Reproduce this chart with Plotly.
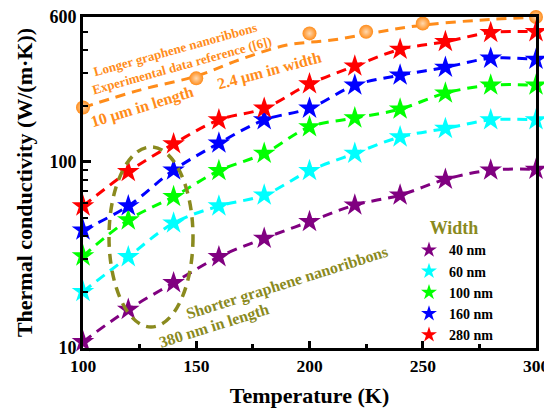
import plotly.graph_objects as go

# ---------------- data ----------------
temperature = [100, 120, 140, 160, 180, 200, 220, 240, 260, 280, 300]
k_40nm  = [10.8, 16.1, 22.4, 30.9, 38.8, 47.7, 58.6, 66.3, 80.5, 90.3, 91.0]
k_60nm  = [20.1, 30.9, 46.9, 57.9, 66.3, 89.6, 111, 136, 151, 168, 168]
k_100nm = [31.2, 48.7, 65.0, 89.6, 111, 154, 172, 192, 234, 258, 258]
k_160nm = [43.0, 58.0, 90.3, 126, 168, 194, 258, 292, 322, 360, 355]
k_280nm = [57.9, 88.5, 125, 168, 194, 262, 327, 402, 442, 495, 500]

exp_T = [100, 150, 200, 225, 250, 300]
exp_k = [196, 281, 490, 500, 554, 600]
exp_fit_T = [100, 125, 150, 170, 190, 210, 230, 250, 275, 300]
exp_fit_k = [196, 243, 289, 357, 424, 451, 498, 543, 577, 600]

widths = ["40 nm", "60 nm", "100 nm", "160 nm", "280 nm"]
series = [k_40nm, k_60nm, k_100nm, k_160nm, k_280nm]
colors = ["#800080", "#00FFFF", "#00FF00", "#0000FF", "#FF0000"]

x_ticks = [100, 150, 200, 250, 300]
y_ticks = [10, 100, 600]
y_minor = [20, 30, 40, 50, 60, 70, 80, 90, 200, 300, 400, 500]

ORANGE = "#FF8C1A"
OLIVE = "#8A8A1E"
FONT = "Liberation Serif"

fig = go.Figure()

# experimental (orange)
fig.add_trace(go.Scatter(x=exp_fit_T, y=exp_fit_k, mode="lines",
                         line=dict(color=ORANGE, width=3, dash="10px,7px", shape="spline"),
                         showlegend=False, hoverinfo="skip"))
fig.add_trace(go.Scatter(x=exp_T, y=exp_k, mode="markers",
                         marker=dict(symbol="circle", size=14, color=ORANGE,
                                     gradient=dict(type="radial", color="#FFD9B0"),
                                     line=dict(width=0)),
                         showlegend=False, cliponaxis=False))

# simulated series
for name, vals, c in zip(widths, series, colors):
    fig.add_trace(go.Scatter(x=temperature, y=vals, mode="lines",
                             line=dict(color=c, width=3, dash="10px,7px", shape="spline"),
                             showlegend=False, hoverinfo="skip"))
for name, vals, c in zip(widths, series, colors):
    fig.add_trace(go.Scatter(x=temperature, y=vals, mode="markers", name=name,
                             marker=dict(symbol="star", size=17, color=c, line=dict(width=0)),
                             cliponaxis=False))

# page body has an 8px margin: figure is offset by (8, 8) in the window
OFF = 8
AX_L, AX_R, AX_T, AX_B = 83, 536, 17, 348   # plot area in window pixels
W, H = 552 - OFF, 412 - OFF
L = AX_L - OFF
T = AX_T - OFF
R = W - (AX_R - OFF)
B = H - (AX_B - OFF)
pw, ph = AX_R - AX_L, AX_B - AX_T


def px(xp):
    return (xp - AX_L) / pw


def py(yp):
    return (AX_B - yp) / ph


fig.update_layout(
    width=W, height=H,
    margin=dict(l=L, r=R, t=T, b=B, autoexpand=False),
    paper_bgcolor="white", plot_bgcolor="white",
    font=dict(family=FONT, color="black"),
    showlegend=True,
    legend=dict(
        x=px(409), y=py(211), xanchor="left", yanchor="top",
        bgcolor="rgba(0,0,0,0)",
        font=dict(family=FONT, size=14, color="black", weight="bold"),
        title=dict(text="Width", side="top center",
                   font=dict(family=FONT, size=18, color=OLIVE, weight="bold")),
        tracegroupgap=0, itemsizing="constant",
    ),
    xaxis=dict(
        range=[100, 300], tickmode="array", tickvals=x_ticks, automargin=False,
        ticklabeloverflow="allow",
        showline=True, linecolor="black", linewidth=3, mirror=True,
        ticks="inside", ticklen=7, tickwidth=3, tickcolor="black",
        minor=dict(ticks="inside", ticklen=4, tickwidth=3, dtick=25, tickcolor="black"),
        showgrid=False, zeroline=False,
        tickfont=dict(family=FONT, size=17.5, color="black", weight="bold"),
        title=dict(text="Temperature (K)", standoff=13,
                   font=dict(family=FONT, size=22, color="black", weight="bold")),
    ),
    yaxis=dict(
        type="log", range=[1, 2.7782], automargin=False,
        ticklabeloverflow="allow",
        tickmode="array", tickvals=y_ticks, ticktext=[str(v) for v in y_ticks],
        showline=True, linecolor="black", linewidth=3, mirror=True,
        ticks="inside", ticklen=8, tickwidth=3, tickcolor="black",
        minor=dict(ticks="inside", ticklen=5, tickwidth=2, tickmode="array",
                   tickvals=y_minor, tickcolor="black"),
        showgrid=False, zeroline=False,
        tickfont=dict(family=FONT, size=18, color="black", weight="bold"),
        title=dict(text="Thermal conductivity (W/(m·K))", standoff=11,
                   font=dict(family=FONT, size=22, color="black", weight="bold")),
    ),
)

# ellipse around the short-ribbon region
fig.add_shape(type="circle", xref="paper", yref="paper",
              x0=px(109), x1=px(193), y0=py(327), y1=py(147),
              line=dict(color=OLIVE, width=3.5, dash="10px,7px"))

annots = [
    ("Longer graphene nanoribbons", 175, 50, -15.5, 13, ORANGE),
    ("Experimental data reference ([6])", 181, 65, -15.5, 13, ORANGE),
    ("2.4 μm in width", 269, 71, -15, 16, ORANGE),
    ("10 μm in length", 142, 107, -17, 16, ORANGE),
    ("Shorter graphene nanoribbons", 287, 283, -17.5, 16, OLIVE),
    ("380 nm in length", 214, 326, -17.5, 16, OLIVE),
]
for text, ax_, ay_, ang, size, col in annots:
    fig.add_annotation(text=text, xref="paper", yref="paper", x=px(ax_), y=py(ay_),
                       xanchor="center", yanchor="middle", showarrow=False,
                       textangle=ang,
                       font=dict(family=FONT, size=size, color=col, weight="bold"))

fig.write_html("out.html")
